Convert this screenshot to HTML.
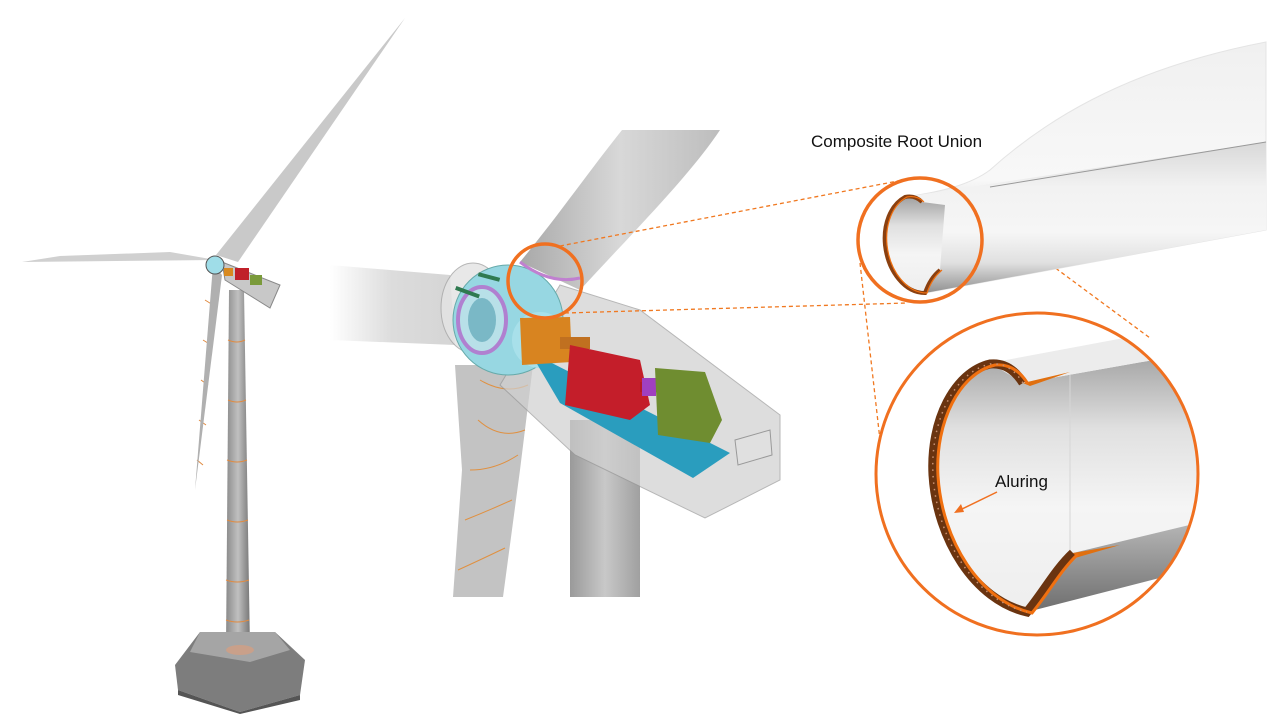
<!DOCTYPE html>
<html><head><meta charset="utf-8"><style>
body{margin:0;background:#fff;width:1280px;height:720px;overflow:hidden;font-family:"Liberation Sans",sans-serif}
</style></head><body>
<svg width="1280" height="720" viewBox="0 0 1280 720" xmlns="http://www.w3.org/2000/svg">
<defs>
<linearGradient id="tw" x1="0" x2="1"><stop offset="0" stop-color="#8a8a8a"/><stop offset=".5" stop-color="#c0c0c0"/><stop offset="1" stop-color="#777"/></linearGradient>
<linearGradient id="tw2" x1="0" x2="1"><stop offset="0" stop-color="#9a9a9a"/><stop offset=".5" stop-color="#c8c8c8"/><stop offset="1" stop-color="#a0a0a0"/></linearGradient>
<linearGradient id="bl" x1="0" y1="0" x2="1" y2="0"><stop offset="0" stop-color="#a8a8a8"/><stop offset=".5" stop-color="#d8d8d8"/><stop offset="1" stop-color="#bdbdbd"/></linearGradient>
<linearGradient id="lb" x1="0" x2="1"><stop offset="0" stop-color="#fff"/><stop offset=".5" stop-color="#d8d8d8"/><stop offset="1" stop-color="#d0d0d0"/></linearGradient>
<linearGradient id="tube" x1="0" y1="0" x2="0" y2="1"><stop offset="0" stop-color="#f0f0f0"/><stop offset=".55" stop-color="#f8f8f8"/><stop offset="1" stop-color="#a5a5a5"/></linearGradient>
<linearGradient id="tube2" x1="0" y1="0" x2="0" y2="1"><stop offset="0" stop-color="#d8d8d8"/><stop offset=".3" stop-color="#f2f2f2"/><stop offset=".6" stop-color="#f6f6f6"/><stop offset=".8" stop-color="#e0e0e0"/><stop offset="1" stop-color="#909090"/></linearGradient>
<linearGradient id="inner" x1="0" y1="0" x2="0" y2="1"><stop offset="0" stop-color="#a0a0a0"/><stop offset=".3" stop-color="#e0e0e0"/><stop offset=".6" stop-color="#f5f5f5"/><stop offset="1" stop-color="#eeeeee"/></linearGradient>
<linearGradient id="band" x1="0" y1="0" x2="0" y2="1"><stop offset="0" stop-color="#b8b8b8"/><stop offset="1" stop-color="#6e6e6e"/></linearGradient>
<clipPath id="bigc"><circle cx="1037" cy="474" r="160"/></clipPath>
</defs>

<!-- LEFT TURBINE -->
<polygon points="229,290 244,290 250,648 226,648" fill="url(#tw)"/>
<g stroke="#e08a40" stroke-width="1" fill="none">
<path d="M228,340 Q237,344 245,340 M228,400 Q237,404 246,400 M227,460 Q237,464 247,460 M227,520 Q237,524 248,520 M226,580 Q237,584 249,580 M226,620 Q237,624 249,620"/>
<path d="M205,300 l8,5 M203,340 l8,5 M201,380 l7,5 M199,420 l7,5 M197,460 l6,5"/>
</g>
<polygon points="175,665 200,632 275,632 305,660 300,695 240,712 178,690" fill="#7d7d7d"/>
<polygon points="200,632 275,632 290,650 250,662 190,652" fill="#a5a5a5"/>
<polygon points="178,690 240,712 300,695 300,700 240,714 178,695" fill="#555"/>
<ellipse cx="240" cy="650" rx="14" ry="5" fill="#c9a08a"/>
<polygon points="216,255 405,18 238,262" fill="#c9c9c9"/>
<polygon points="216,260 22,262 60,256 170,252" fill="#d0d0d0"/>
<polygon points="213,265 195,490 222,275" fill="#b0b0b0"/>
<polygon points="222,262 280,285 270,308 225,280" fill="#c8c8c8" stroke="#888"/>
<circle cx="215" cy="265" r="9" fill="#9fdde8" stroke="#555"/>
<rect x="235" y="268" width="14" height="12" fill="#c0202a"/>
<rect x="250" y="275" width="12" height="10" fill="#7a9a3a"/>
<rect x="224" y="268" width="9" height="8" fill="#d88a20"/>

<!-- MIDDLE TURBINE -->
<polygon points="330,265 450,275 455,345 330,340" fill="url(#lb)" opacity=".9"/>
<polygon points="570,420 640,420 640,597 570,597" fill="url(#tw2)"/>
<polygon points="455,365 533,365 520,470 503,597 453,597 462,470" fill="#bdbdbd" opacity=".9"/>
<g stroke="#e09040" stroke-width="1" fill="none">
<path d="M480,380 Q505,395 528,385 M478,420 Q500,440 525,430 M470,470 Q495,470 518,455 M465,520 Q490,510 512,500 M458,570 Q480,560 505,548"/>
</g>
<path d="M520,262 C555,220 590,170 622,130 L720,130 C690,175 640,225 580,290 Z" fill="url(#bl)"/>
<polygon points="560,285 640,310 780,415 780,480 705,518 575,455 500,385" fill="#d0d0d0" opacity=".7" stroke="#999"/>
<polygon points="735,440 770,430 772,455 738,465" fill="#e0e0e0" stroke="#999"/>
<ellipse cx="473" cy="308" rx="32" ry="45" fill="#e4e4e4" opacity=".85" stroke="#aaa"/>
<circle cx="508" cy="320" r="55" fill="#97d7e2" stroke="#6aa"/>
<circle cx="540" cy="340" r="28" fill="#a8e0ea"/>
<ellipse cx="482" cy="320" rx="24" ry="33" fill="#b8e0e8" stroke="#b080d0" stroke-width="4"/>
<ellipse cx="482" cy="320" rx="14" ry="22" fill="#7ab8c6"/>
<path d="M520,262 Q550,285 580,278" stroke="#c080d0" stroke-width="3" fill="none"/>
<polygon points="530,352 730,453 693,478 560,403" fill="#2a9dbe"/>
<path d="M520,318 L570,317 L572,362 L522,365 Z" fill="#d88420"/>
<rect x="560" y="337" width="30" height="12" fill="#c07020"/>
<polygon points="570,345 640,360 650,405 630,420 565,405" fill="#c41e2a"/>
<rect x="640" y="382" width="40" height="10" fill="#b51a26"/>
<rect x="642" y="378" width="14" height="18" fill="#a040c0"/>
<polygon points="655,368 705,372 722,420 710,443 658,435" fill="#6f8d30"/>
<g fill="#2f7a50"><rect x="455" y="290" width="25" height="4" transform="rotate(20 467 292)"/><rect x="478" y="275" width="22" height="4" transform="rotate(15 489 277)"/></g>
<circle cx="545" cy="281" r="37" fill="none" stroke="#f07020" stroke-width="3.5"/>

<!-- dashed connectors -->
<g stroke="#f07820" stroke-width="1.3" stroke-dasharray="4,3" fill="none">
<line x1="560" y1="246" x2="903" y2="180"/>
<line x1="565" y1="313" x2="907" y2="303"/>
<line x1="860" y1="263" x2="880" y2="440"/>
<line x1="977" y1="210" x2="1150" y2="338"/>
</g>

<!-- RIGHT BLADE -->
<path d="M905,197 C940,192 970,185 990,170 C1040,125 1120,70 1266,42 L1266,230 L925,293 Z" fill="url(#tube)" stroke="#e4e4e4"/>
<polygon points="905,197 1266,142 1266,230 925,293" fill="url(#tube2)"/>
<line x1="990" y1="187" x2="1266" y2="142" stroke="#999" stroke-width="1"/>
<path d="M922,202 Q915,195 905,197 C890,205 883,225 885,245 C888,272 905,293 925,293 Q930,278 940,270 L945,205 Z" fill="url(#inner)"/>
<path d="M922,202 Q915,195 905,197 C890,205 883,225 885,245 C888,272 905,293 925,293 Q930,278 940,270" fill="none" stroke="#8a4010" stroke-width="4"/>
<path d="M922,202 Q915,195 905,197 C890,205 883,225 885,245 C888,272 905,293 925,293 Q930,278 940,270" fill="none" stroke="#f07010" stroke-width="1.2" transform="translate(2,0)"/>
<circle cx="920" cy="240" r="62" fill="none" stroke="#f07020" stroke-width="3.5"/>

<!-- BIG CIRCLE -->
<circle cx="1037" cy="474" r="160" fill="#fff"/>
<g clip-path="url(#bigc)">
<path d="M1023,383 L1210,350 L1210,520 L1073,553 C1055,570 1045,590 1027,612 C975,600 937,540 933,475 C930,420 955,372 990,364 Q1010,362 1023,383 Z" fill="url(#inner)"/>
<line x1="1070" y1="375" x2="1070" y2="550" stroke="#d6d6d6" stroke-width="1"/>
<polygon points="990,363 1210,322 1210,350 1023,383" fill="#ececec"/>
<polygon points="1073,553 1210,520 1210,565 1027,612" fill="url(#band)"/>
<path d="M1023,383 L1070,372 L1030,386 Z M1073,553 L1120,545 L1075,558 Z" fill="#e07010"/>
<path d="M1023,383 Q1010,362 990,364 C955,372 930,420 933,475 C937,540 975,600 1027,612 C1045,590 1055,570 1073,553" fill="none" stroke="#6a3410" stroke-width="9"/>
<path d="M1023,383 Q1010,362 990,364 C955,372 930,420 933,475 C937,540 975,600 1027,612 C1045,590 1055,570 1073,553" fill="none" stroke="#f07010" stroke-width="3" transform="translate(5,1)"/>
<path d="M1023,383 Q1010,362 990,364 C955,372 930,420 933,475 C937,540 975,600 1027,612" fill="none" stroke="#c89070" stroke-width="1.5" stroke-dasharray="1.5,5"/>
</g>
<circle cx="1037" cy="474" r="161" fill="none" stroke="#f07020" stroke-width="3"/>

<line x1="997" y1="492" x2="960" y2="510" stroke="#f07020" stroke-width="1.5"/>
<polygon points="954,513 961,504 964,512" fill="#f07020"/>
<text x="811" y="147" font-size="17" fill="#111">Composite Root Union</text>
<text x="995" y="487" font-size="17" fill="#111">Aluring</text>
</svg>
</body></html>
